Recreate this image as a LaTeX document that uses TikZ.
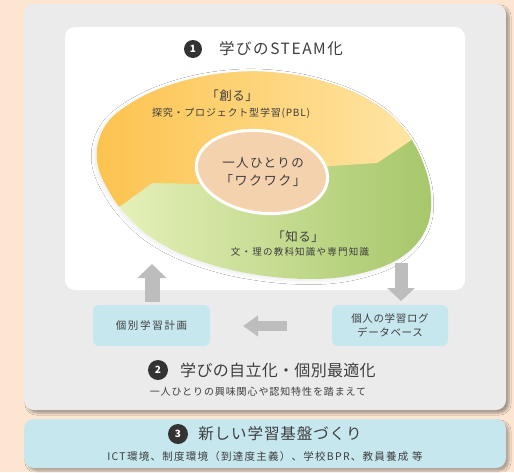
\documentclass[tikz,border=0pt]{standalone}
\usepackage{fontspec}
\setmainfont{Noto Sans CJK JP}
\usetikzlibrary{arrows.meta,shapes.geometric,shadows.blur}
\definecolor{peach}{HTML}{FCE5D1}
\definecolor{panel}{HTML}{EBEBEB}
\definecolor{boxcyan}{HTML}{C6E7EE}
\definecolor{arrgray}{HTML}{BDBDBD}
\definecolor{numgray}{HTML}{333333}
\definecolor{txt}{HTML}{3E3E3E}
\definecolor{yel1}{HTML}{FCBF45}
\definecolor{yel2}{HTML}{FFE9AE}
\definecolor{grn1}{HTML}{EAF4C0}
\definecolor{grn2}{HTML}{A5C668}
\definecolor{core}{HTML}{F5D2AE}
\newcommand\fs[3]{\fontsize{#1}{#2}\selectfont\addfontfeature{LetterSpace=#3}}
\tikzset{
  numc/.style={circle, fill=numgray, text=white, inner sep=0pt, minimum size=18pt, font=\fs{10}{12}{0}\bfseries},
  lbl/.style={text=txt, inner sep=0pt, align=center},
  cbox/.style={rounded corners=6pt, fill=boxcyan, inner sep=0pt, text=txt, align=center},
  garrow/.style={line width=15pt, draw=arrgray, -{Triangle[width=28pt,length=14pt]}},
  harrow/.style={line width=10pt, draw=arrgray, -{Triangle[width=20pt,length=15pt]}}
}
\begin{document}
\begin{tikzpicture}[x=1pt,y=-1pt]
\useasboundingbox (0,0) rectangle (514,472);
\fill[peach] (0,0) rectangle (514,472);
% outer panel
\fill[panel, rounded corners=10pt, blur shadow={shadow xshift=3pt, shadow yshift=-3pt, shadow opacity=35, shadow blur steps=6}] (24,4) rectangle (506,410);
\fill[white, rounded corners=10pt] (65,27) rectangle (465,290);
% bottom band
\fill[boxcyan, rounded corners=10pt, blur shadow={shadow xshift=3pt, shadow yshift=-3pt, shadow opacity=30, shadow blur steps=6}] (24,419) rectangle (506,468);

% blob
\def\blob{plot[smooth cycle, tension=0.65] coordinates {(97,160) (104,128) (128,105) (170,85) (225,73) (280,73) (332,84) (374,103) (403,128) (422,160) (431,197) (425,231) (400,258) (358,274) (310,279) (252,274) (200,261) (160,243) (132,221) (110,193)}}
\fill[white, blur shadow={shadow xshift=-1.5pt, shadow yshift=-1.5pt, shadow opacity=8, shadow blur steps=8, shadow blur radius=4pt}] \blob;
\begin{scope}
\clip \blob;
\shade[left color=grn1, right color=grn2] (90,60) rectangle (440,285);
\shade[left color=yel1, right color=yel2] (60,236) -- (122,205) -- (152,183) -- (200,184) -- (263,175) -- (330,166) -- (377,163) -- (407,143) -- (450,115) -- (450,40) -- (60,40) -- cycle;
\end{scope}
\node[ellipse, draw=white, line width=3pt, fill=core, minimum width=132pt, minimum height=82pt, rotate=-8] (corenode) at (262,172) {};

% titles
\node[numc] (n1) at (193,49) {1};
\node[lbl, font=\fs{15.5}{18}{10}] (t1) at (281,49) {学びのSTEAM化};
\node[lbl, font=\fs{12.5}{14}{4}] (sozo) at (232,96) {「創る」};
\node[lbl, font=\fs{10}{12}{8}] (sozo2) at (231,113) {探究・プロジェクト型学習(PBL)};
\node[lbl, font=\fs{12.5}{14}{11}] (w1) at (263,163) {一人ひとりの};
\node[lbl, font=\fs{13}{14}{12}] (w2) at (263,181) {「ワクワク」};
\node[lbl, font=\fs{12.5}{14}{4}] (shiru) at (298,237) {「知る」};
\node[lbl, font=\fs{9.5}{12}{13}] (shiru2) at (300,252) {文・理の教科知識や専門知識};

% boxes
\node[cbox, minimum width=117pt, minimum height=41pt, font=\fs{10.5}{13}{16}] (plan) at (151.5,325.5) {個別学習計画};
\node[cbox, minimum width=116pt, minimum height=41pt, font=\fs{10.5}{13.5}{6}] (log) at (390,325.5) {個人の学習ログ\\データベース};

% arrows
\coordinate (upS) at (152,302);
\coordinate (upE) at (152,264);
\coordinate (dnS) at (401,263);
\coordinate (dnE) at (401,301);
\coordinate (lfS) at (287,326);
\coordinate (lfE) at (243,326);
\draw[garrow] (upS) -- (upE);
\draw[garrow, line width=13pt, -{Triangle[width=27pt,length=13pt]}] (dnS) -- (dnE);
\draw[harrow] (lfS) -- (lfE);

% section 2
\node[numc, minimum size=20pt] (n2) at (158,370) {2};
\node[lbl, font=\fs{16}{18}{2}] (t2) at (278,370) {学びの自立化・個別最適化};
\node[lbl, font=\fs{10}{12}{9}] (s2) at (258,392) {一人ひとりの興味関心や認知特性を踏まえて};

% section 3
\node[numc, minimum size=20pt] (n3) at (178,434) {3};
\node[lbl, font=\fs{15.5}{18}{6}] (t3) at (280,434) {新しい学習基盤づくり};
\node[lbl, font=\fs{10.5}{12}{12}] (s3) at (265,457) {ICT環境、制度環境（到達度主義）、学校BPR、教員養成 等};
\end{tikzpicture}
\end{document}
